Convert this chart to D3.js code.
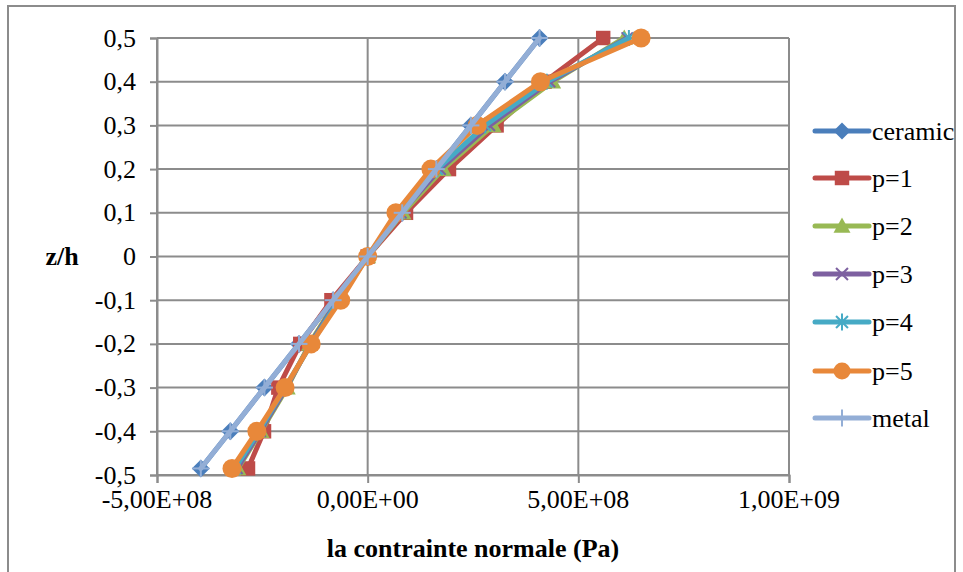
<!DOCTYPE html>
<html>
<head>
<meta charset="utf-8">
<script src="https://cdn.jsdelivr.net/npm/d3@7"></script>
<style>
  html, body { margin: 0; padding: 0; background: #fff; }
  svg { display: block; }
</style>
</head>
<body>
<svg id="chart" width="963" height="572"></svg>
<script>
// Normalised thickness positions z/h
const zh = [0.5, 0.4, 0.3, 0.2, 0.1, 0, -0.1, -0.2, -0.3, -0.4, -0.485];

// Normal stress (Pa) for each material
const ceramic = [4.08e8, 3.26e8, 2.45e8, 1.63e8, 0.82e8, 0, -0.82e8, -1.63e8, -2.45e8, -3.26e8, -3.96e8];
const p1 = [5.59e8, 4.2e8, 3.06e8, 1.93e8, 0.91e8, 0, -0.86e8, -1.6e8, -2.12e8, -2.46e8, -2.84e8];
const p2 = [6.09e8, 4.39e8, 2.98e8, 1.79e8, 0.84e8, 0, -0.74e8, -1.38e8, -1.91e8, -2.53e8, -3.08e8];
const p3 = [6.16e8, 4.32e8, 2.89e8, 1.72e8, 0.79e8, 0, -0.72e8, -1.36e8, -1.93e8, -2.55e8, -3.1e8];
const p4 = [6.2e8, 4.25e8, 2.79e8, 1.65e8, 0.74e8, 0, -0.69e8, -1.34e8, -1.96e8, -2.58e8, -3.15e8];
const p5 = [6.49e8, 4.1e8, 2.6e8, 1.5e8, 0.67e8, 0, -0.64e8, -1.34e8, -1.96e8, -2.63e8, -3.22e8];
const metal = [4.08e8, 3.26e8, 2.45e8, 1.63e8, 0.82e8, 0, -0.82e8, -1.63e8, -2.45e8, -3.26e8, -3.96e8];

const seriesNames = ["ceramic", "p=1", "p=2", "p=3", "p=4", "p=5", "metal"];
const seriesValues = [ceramic, p1, p2, p3, p4, p5, metal];
const seriesColors = ["#4A7EBB", "#BE4B48", "#98B954", "#7D60A0", "#46AAC5", "#E8883A", "#93AED6"];
const seriesMarkers = ["diamond", "square", "triangle", "x", "star", "circle", "plus"];

const xTicks = [-5e8, 0, 5e8, 1e9];
const xTickLabels = ["-5,00E+08", "0,00E+00", "5,00E+08", "1,00E+09"];
const yTicks = [-0.5, -0.4, -0.3, -0.2, -0.1, 0, 0.1, 0.2, 0.3, 0.4, 0.5];
const yTickLabel = v => (Math.abs(v) < 1e-9 ? "0" : d3.format(".1f")(v).replace(".", ",").replace("−", "-"));

const svg = d3.select("#chart");
const plot = { left: 157, right: 789, top: 38, bottom: 475 };
const gridColor = "#8C8C8C";
const font = "'Liberation Serif', 'Times New Roman', serif";
const fontSize = 26;

const x = d3.scaleLinear().domain([-5e8, 1e9]).range([plot.left, plot.right]);
const y = d3.scaleLinear().domain([-0.5, 0.5]).range([plot.bottom, plot.top]);

// outer chart frame
svg.append("rect")
  .attr("x", 8).attr("y", 6).attr("width", 947).attr("height", 575)
  .attr("fill", "#fff").attr("stroke", gridColor).attr("stroke-width", 2);

function addText(g, str, tx, ty, anchor, weight) {
  g.append("text")
    .attr("x", tx).attr("y", ty)
    .attr("text-anchor", anchor)
    .attr("font-family", font)
    .attr("font-size", fontSize)
    .attr("font-weight", weight || "normal")
    .attr("fill", "#000")
    .text(str);
}

// gridlines
const grid = svg.append("g");
grid.selectAll("line.h").data(yTicks).join("line")
  .attr("x1", plot.left).attr("x2", plot.right)
  .attr("y1", d => y(d)).attr("y2", d => y(d))
  .attr("stroke", gridColor).attr("stroke-width", 2);
grid.selectAll("line.v").data(xTicks).join("line")
  .attr("x1", d => x(d)).attr("x2", d => x(d))
  .attr("y1", plot.top).attr("y2", plot.bottom)
  .attr("stroke", gridColor).attr("stroke-width", 2);

// axes
const yAxis = svg.append("g").attr("transform", `translate(${plot.left},0)`)
  .call(d3.axisLeft(y).tickValues(yTicks).tickSize(7).tickFormat(""));
const xAxis = svg.append("g").attr("transform", `translate(0,${plot.bottom})`)
  .call(d3.axisBottom(x).tickValues(xTicks).tickSize(8).tickFormat(""));
[yAxis, xAxis].forEach(a => {
  a.selectAll("path, line").attr("stroke", gridColor).attr("stroke-width", 2);
});

const labels = svg.append("g");
yTicks.forEach(v => addText(labels, yTickLabel(v), 136, y(v) + 8.5, "end"));
xTicks.forEach((v, i) => addText(labels, xTickLabels[i], x(v), 508, "middle"));
addText(labels, "la contrainte normale (Pa)", (plot.left + plot.right) / 2, 557, "middle", "bold");
addText(labels, "z/h", 62, 265, "middle", "bold");

// marker drawing
function drawMarker(g, type, cx, cy, color, s) {
  const h = s / 2;
  if (type === "diamond") {
    g.append("path").attr("d", `M${cx},${cy - h}L${cx + h},${cy}L${cx},${cy + h}L${cx - h},${cy}Z`)
      .attr("fill", color);
  } else if (type === "square") {
    const q = h * 0.85;
    g.append("rect").attr("x", cx - q).attr("y", cy - q).attr("width", 2 * q).attr("height", 2 * q)
      .attr("fill", color);
  } else if (type === "triangle") {
    g.append("path").attr("d", `M${cx},${cy - h}L${cx + h},${cy + h * 0.8}L${cx - h},${cy + h * 0.8}Z`)
      .attr("fill", color);
  } else if (type === "circle") {
    g.append("circle").attr("cx", cx).attr("cy", cy).attr("r", h).attr("fill", color);
  } else {
    const q = h * 0.7;
    const segs = [];
    if (type === "x" || type === "star") {
      segs.push([cx - q, cy - q, cx + q, cy + q], [cx - q, cy + q, cx + q, cy - q]);
    }
    if (type === "star") segs.push([cx, cy - h, cx, cy + h]);
    if (type === "plus") segs.push([cx - h, cy, cx + h, cy], [cx, cy - h, cx, cy + h]);
    segs.forEach(sg => g.append("line")
      .attr("x1", sg[0]).attr("y1", sg[1]).attr("x2", sg[2]).attr("y2", sg[3])
      .attr("stroke", color).attr("stroke-width", 2));
  }
}

const line = d3.line().x(d => x(d[0])).y(d => y(d[1]));
const markerSize = [18, 17, 17, 16, 16, 19, 17];

// series, drawn in order so later series sit on top
seriesValues.forEach((vals, i) => {
  const g = svg.append("g");
  const pts = vals.map((v, k) => [v, zh[k]]);
  g.append("path").datum(pts).attr("d", line)
    .attr("fill", "none").attr("stroke", seriesColors[i]).attr("stroke-width", 5)
    .attr("stroke-linejoin", "round").attr("stroke-linecap", "round");
  pts.forEach(p => drawMarker(g, seriesMarkers[i], x(p[0]), y(p[1]), seriesColors[i], markerSize[i]));
});

// legend
const legend = svg.append("g");
const legendY = [131, 178, 226, 274, 322, 371, 418];
seriesNames.forEach((name, i) => {
  const cy = legendY[i];
  legend.append("line").attr("x1", 815).attr("x2", 869).attr("y1", cy).attr("y2", cy)
    .attr("stroke", seriesColors[i]).attr("stroke-width", 5).attr("stroke-linecap", "round");
  drawMarker(legend, seriesMarkers[i], 842, cy, seriesColors[i], 17);
  addText(legend, name, 872, cy + 8.5, "start");
});
</script>
</body>
</html>
